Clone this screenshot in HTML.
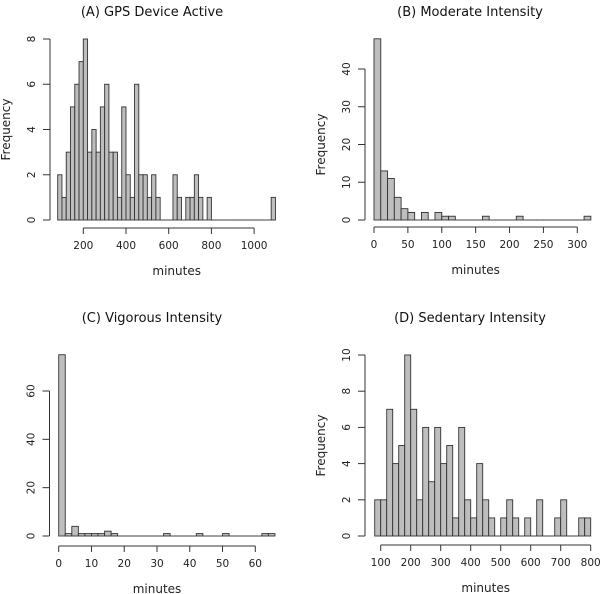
<!DOCTYPE html>
<html><head><meta charset="utf-8"><style>
body{margin:0;background:#fff}
svg{display:block;font-family:"DejaVu Sans","Liberation Sans",sans-serif}
</style></head><body>
<svg id="c" width="600" height="594" viewBox="0 0 600 594"></svg>
<script>
const aStart=80, aWidth=20;
const aCounts=[2,1,3,5,6,7,8,3,4,3,5,6,3,3,1,5,2,1,6,2,2,1,2,1,0,0,0,2,1,0,1,1,2,1,0,1,0,0,0,0,0,0,0,0,0,0,0,0,0,0,1];
const aXTicks=[200,400,600,800,1000];
const aYTicks=[0,2,4,6,8];
const bStart=0, bWidth=10;
const bCounts=[48,13,11,6,3,2,0,2,0,2,1,1,0,0,0,0,1,0,0,0,0,1,0,0,0,0,0,0,0,0,0,1];
const bXTicks=[0,50,100,150,200,250,300];
const bYTicks=[0,10,20,30,40];
const cStart=0, cWidth=2;
const cCounts=[75,1,4,1,1,1,1,2,1,0,0,0,0,0,0,0,1,0,0,0,0,1,0,0,0,1,0,0,0,0,0,1,1];
const cXTicks=[0,10,20,30,40,50,60];
const cYTicks=[0,20,40,60];
const dStart=80, dWidth=20;
const dCounts=[2,2,7,4,5,10,7,2,6,3,6,4,5,1,6,2,1,4,2,1,0,1,2,1,0,1,0,2,0,0,1,2,0,0,1,1];
const dXTicks=[100,200,300,400,500,600,700,800];
const dYTicks=[0,2,4,6,8,10];

const NS="http://www.w3.org/2000/svg";
const svg=document.getElementById('c');
function mk(tag,attrs,parent,text){const e=document.createElementNS(NS,tag);for(const k in attrs)e.setAttribute(k,attrs[k]);if(text!==undefined)e.textContent=text;(parent||svg).appendChild(e);return e;}

function panel(o){
  const g=mk('g',{});
  
  
  const sx=v=>o.x0+(v-o.v0)*(o.x1-o.x0)/(o.v1-o.v0);
  const sy=v=>o.base-v*(o.base-o.ytop)/o.ymax;
  const t=mk('text',{x:o.tx,y:o.ty,'text-anchor':'middle','font-size':13,fill:'#111'},g,o.title);
  
  
  o.counts.forEach((c,i)=>{
    const a=sx(o.start+i*o.width), b=sx(o.start+(i+1)*o.width);
    const r=mk('rect',{x:a,y:sy(c),width:b-a,height:Math.max(sy(0)-sy(c),0.01),fill:'#bebebe',stroke:'#333','stroke-width':0.9},g);
    
    
  });
  // x axis
  const xa=mk('g',{},g);
  
  
  const xt=o.xticks;
  mk('line',{x1:sx(xt[0]),x2:sx(xt[xt.length-1]),y1:o.xaxisY,y2:o.xaxisY,stroke:'#333'},xa);
  xt.forEach(v=>{
    mk('line',{x1:sx(v),x2:sx(v),y1:o.xaxisY,y2:o.xaxisY+6,stroke:'#333'},xa);
    const l=mk('text',{x:sx(v),y:o.xaxisY+21,'text-anchor':'middle','font-size':10.5,fill:'#222'},xa,v);
    
    
  });
  const xl=mk('text',{x:(sx(xt[0])+sx(xt[xt.length-1]))/2+ (o.xlOff||0),y:o.xaxisY+47,'text-anchor':'middle','font-size':12,fill:'#222'},g,'minutes');
  
  
  // y axis
  const ya=mk('g',{},g);
  
  
  const yt=o.yticks;
  mk('line',{x1:o.yaxisX,x2:o.yaxisX,y1:sy(yt[0]),y2:sy(yt[yt.length-1]),stroke:'#333'},ya);
  yt.forEach(v=>{
    mk('line',{x1:o.yaxisX-7,x2:o.yaxisX,y1:sy(v),y2:sy(v),stroke:'#333'},ya);
    const lx=o.yaxisX-15;
    const l=mk('text',{x:lx,y:sy(v),'text-anchor':'middle','font-size':10.5,fill:'#222',transform:`rotate(-90 ${lx} ${sy(v)})`},ya,v);
    
    
  });
  if(o.ylabel){
    const lx=o.yaxisX-40, ly=(sy(0)+sy(yt[yt.length-1]))/2;
    const yl=mk('text',{x:lx,y:ly,'text-anchor':'middle','font-size':12,fill:'#222',transform:`rotate(-90 ${lx} ${ly})`},g,'Frequency');
    
    
  }
}

panel({name:'panel-a-gps-device-active',title:'(A) GPS Device Active',tx:152,ty:16,counts:aCounts,start:aStart,width:aWidth,
  v0:200,v1:400,x0:83.3,x1:126,base:220,ytop:39,ymax:8,xticks:aXTicks,yticks:aYTicks,xaxisY:228,yaxisX:50,ylabel:true,xlOff:8});
panel({name:'panel-b-moderate-intensity',title:'(B) Moderate Intensity',tx:470,ty:16,counts:bCounts,start:bStart,width:bWidth,
  v0:0,v1:300,x0:374,x1:577.3,base:220,ytop:69,ymax:40,xticks:bXTicks,yticks:bYTicks,xaxisY:227,yaxisX:365,ylabel:true});
panel({name:'panel-c-vigorous-intensity',title:'(C) Vigorous Intensity',tx:152,ty:322,counts:cCounts,start:cStart,width:cWidth,
  v0:0,v1:60,x0:58.7,x1:255.3,base:536,ytop:391,ymax:60,xticks:cXTicks,yticks:cYTicks,xaxisY:546,yaxisX:49.5,ylabel:false});
panel({name:'panel-d-sedentary-intensity',title:'(D) Sedentary Intensity',tx:470,ty:322,counts:dCounts,start:dStart,width:dWidth,
  v0:100,v1:800,x0:380.7,x1:590.7,base:536,ytop:355,ymax:10,xticks:dXTicks,yticks:dYTicks,xaxisY:545,yaxisX:365,ylabel:true});
</script>
</body></html>
